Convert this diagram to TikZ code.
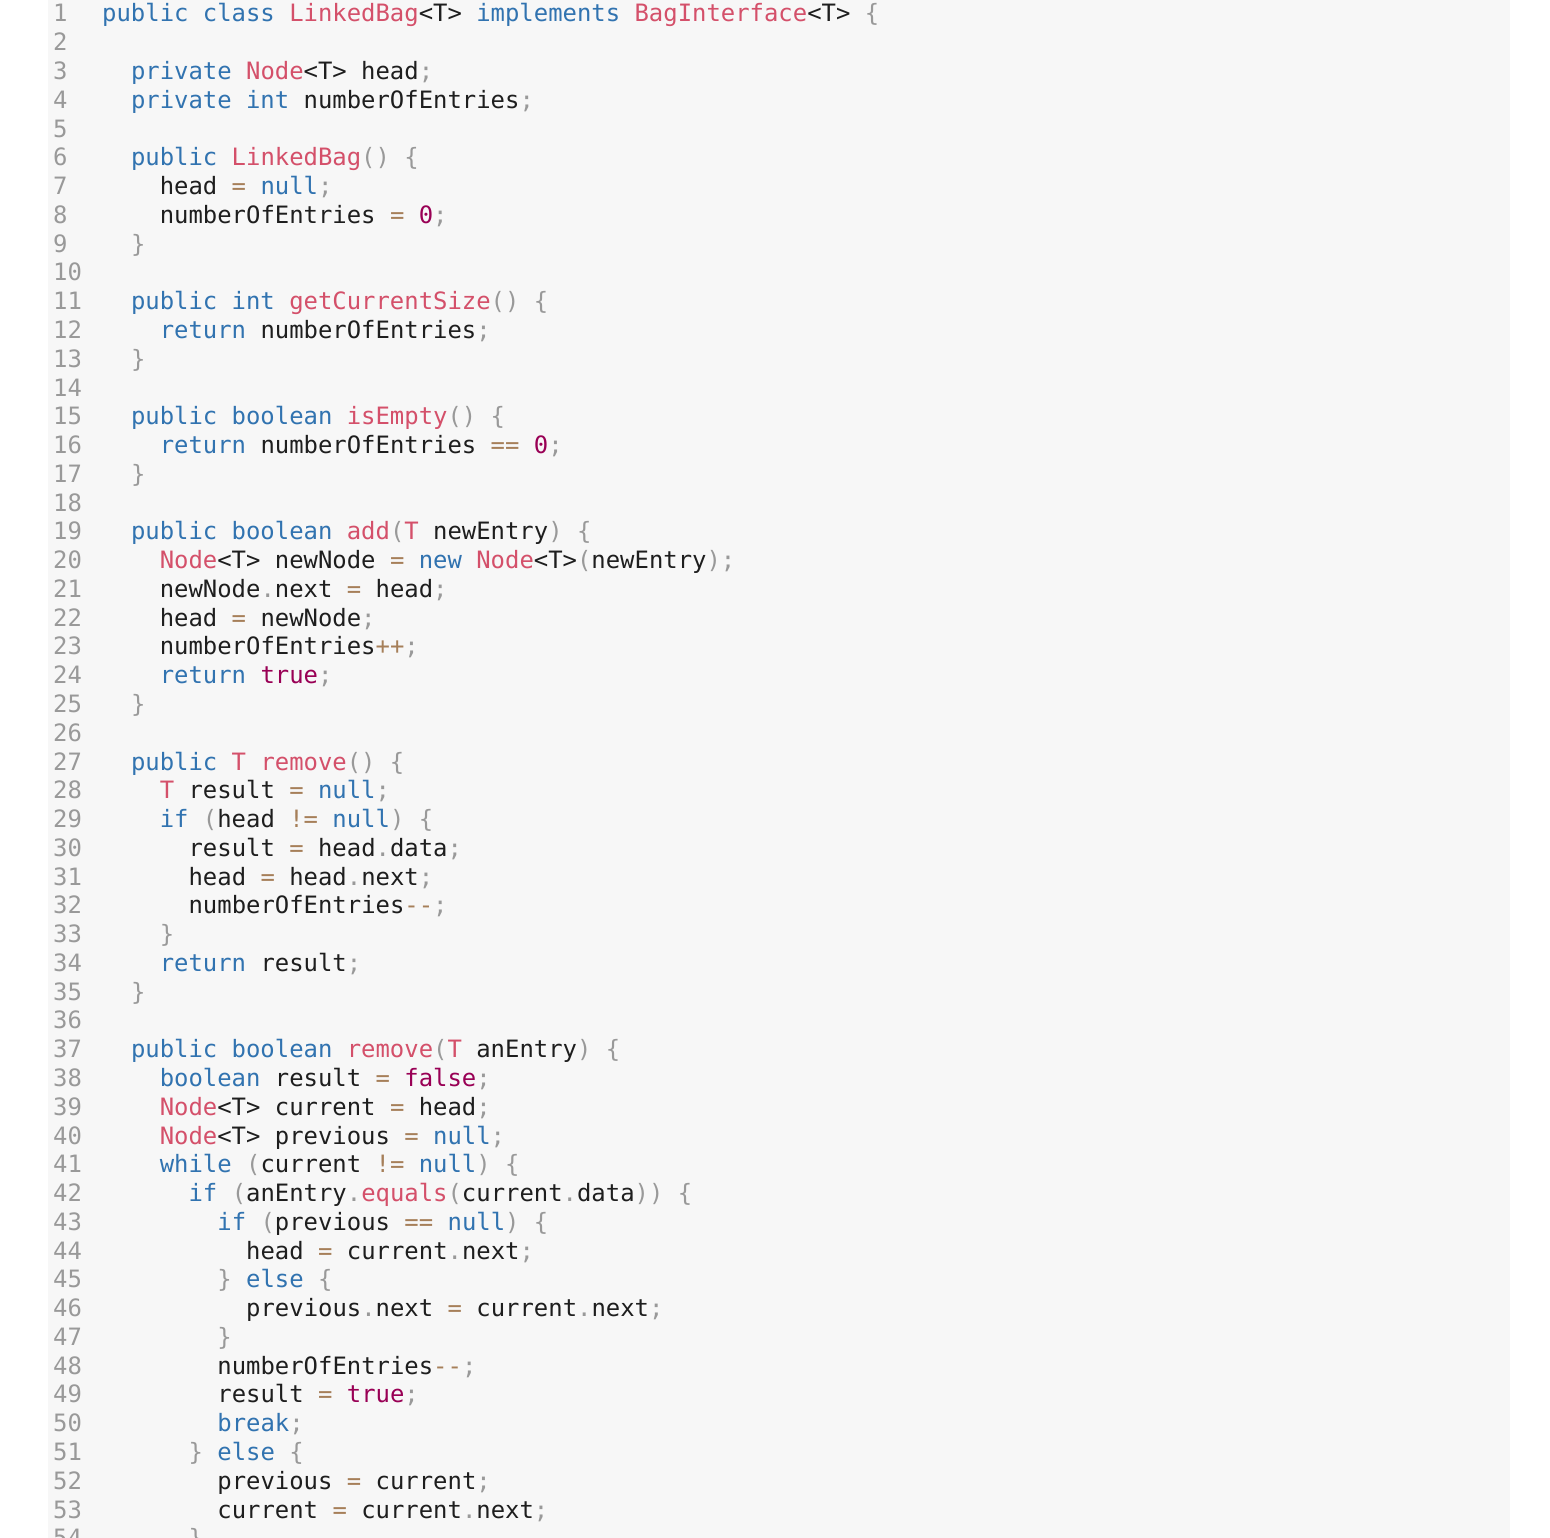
\documentclass[tikz,border=0pt]{standalone}
\usepackage{fontspec}
\setmonofont{DejaVu Sans Mono}
\definecolor{kwc}{HTML}{3173B0}
\definecolor{tyc}{HTML}{D4506A}
\definecolor{nmc}{HTML}{990055}
\definecolor{opc}{HTML}{A67F59}
\definecolor{puc}{HTML}{999999}
\definecolor{txc}{HTML}{1E1E1E}
\definecolor{lnc}{HTML}{999999}
\definecolor{bgc}{HTML}{F7F7F7}
\newcommand\Kw[1]{\textcolor{kwc}{#1}}
\newcommand\Ty[1]{\textcolor{tyc}{#1}}
\newcommand\Nm[1]{\textcolor{nmc}{#1}}
\newcommand\Op[1]{\textcolor{opc}{#1}}
\newcommand\Pu[1]{\textcolor{puc}{#1}}
\tikzset{code/.style={anchor=base west,inner sep=0pt,font=\ttfamily\fontsize{23.9}{28}\selectfont,text=txc},
 lnum/.style={anchor=base west,inner sep=0pt,font=\ttfamily\fontsize{23.9}{28}\selectfont,text=lnc}}
\newcommand\CL[3]{\node[code] (c#1) at ({102+#2*28.8},{-(22+(#1-1)*28.77)}) {#3};}
\begin{document}
\begin{tikzpicture}[x=1pt,y=1pt]
\useasboundingbox (0,0) rectangle (1550,-1538);
\fill[bgc] (48,0) rectangle (1510,-1538);
\begin{scope}
\clip (0,0) rectangle (1550,-1538);
\foreach \i in {1,...,54} {\node[lnum] (n\i) at (53,{-(22+(\i-1)*28.77)}) {\i};}
\CL{54}{3}{\Pu{\}}}
\end{scope}
\CL{1}{0}{\Kw{public class} \Ty{LinkedBag}<T> \Kw{implements} \Ty{BagInterface}<T> \Pu{\{}}
\CL{3}{1}{\Kw{private} \Ty{Node}<T> head\Pu{;}}
\CL{4}{1}{\Kw{private int} numberOfEntries\Pu{;}}
\CL{6}{1}{\Kw{public} \Ty{LinkedBag}\Pu{() \{}}
\CL{7}{2}{head \Op{=} \Kw{null}\Pu{;}}
\CL{8}{2}{numberOfEntries \Op{=} \Nm{0}\Pu{;}}
\CL{9}{1}{\Pu{\}}}
\CL{11}{1}{\Kw{public int} \Ty{getCurrentSize}\Pu{() \{}}
\CL{12}{2}{\Kw{return} numberOfEntries\Pu{;}}
\CL{13}{1}{\Pu{\}}}
\CL{15}{1}{\Kw{public boolean} \Ty{isEmpty}\Pu{() \{}}
\CL{16}{2}{\Kw{return} numberOfEntries \Op{==} \Nm{0}\Pu{;}}
\CL{17}{1}{\Pu{\}}}
\CL{19}{1}{\Kw{public boolean} \Ty{add}\Pu{(}\Ty{T} newEntry\Pu{) \{}}
\CL{20}{2}{\Ty{Node}<T> newNode \Op{=} \Kw{new} \Ty{Node}<T>\Pu{(}newEntry\Pu{);}}
\CL{21}{2}{newNode\Pu{.}next \Op{=} head\Pu{;}}
\CL{22}{2}{head \Op{=} newNode\Pu{;}}
\CL{23}{2}{numberOfEntries\Op{++}\Pu{;}}
\CL{24}{2}{\Kw{return} \Nm{true}\Pu{;}}
\CL{25}{1}{\Pu{\}}}
\CL{27}{1}{\Kw{public} \Ty{T} \Ty{remove}\Pu{() \{}}
\CL{28}{2}{\Ty{T} result \Op{=} \Kw{null}\Pu{;}}
\CL{29}{2}{\Kw{if} \Pu{(}head \Op{!=} \Kw{null}\Pu{) \{}}
\CL{30}{3}{result \Op{=} head\Pu{.}data\Pu{;}}
\CL{31}{3}{head \Op{=} head\Pu{.}next\Pu{;}}
\CL{32}{3}{numberOfEntries\Op{-{}-}\Pu{;}}
\CL{33}{2}{\Pu{\}}}
\CL{34}{2}{\Kw{return} result\Pu{;}}
\CL{35}{1}{\Pu{\}}}
\CL{37}{1}{\Kw{public boolean} \Ty{remove}\Pu{(}\Ty{T} anEntry\Pu{) \{}}
\CL{38}{2}{\Kw{boolean} result \Op{=} \Nm{false}\Pu{;}}
\CL{39}{2}{\Ty{Node}<T> current \Op{=} head\Pu{;}}
\CL{40}{2}{\Ty{Node}<T> previous \Op{=} \Kw{null}\Pu{;}}
\CL{41}{2}{\Kw{while} \Pu{(}current \Op{!=} \Kw{null}\Pu{) \{}}
\CL{42}{3}{\Kw{if} \Pu{(}anEntry\Pu{.}\Ty{equals}\Pu{(}current\Pu{.}data\Pu{)) \{}}
\CL{43}{4}{\Kw{if} \Pu{(}previous \Op{==} \Kw{null}\Pu{) \{}}
\CL{44}{5}{head \Op{=} current\Pu{.}next\Pu{;}}
\CL{45}{4}{\Pu{\}} \Kw{else} \Pu{\{}}
\CL{46}{5}{previous\Pu{.}next \Op{=} current\Pu{.}next\Pu{;}}
\CL{47}{4}{\Pu{\}}}
\CL{48}{4}{numberOfEntries\Op{-{}-}\Pu{;}}
\CL{49}{4}{result \Op{=} \Nm{true}\Pu{;}}
\CL{50}{4}{\Kw{break}\Pu{;}}
\CL{51}{3}{\Pu{\}} \Kw{else} \Pu{\{}}
\CL{52}{4}{previous \Op{=} current\Pu{;}}
\CL{53}{4}{current \Op{=} current\Pu{.}next\Pu{;}}
\end{tikzpicture}
\end{document}
